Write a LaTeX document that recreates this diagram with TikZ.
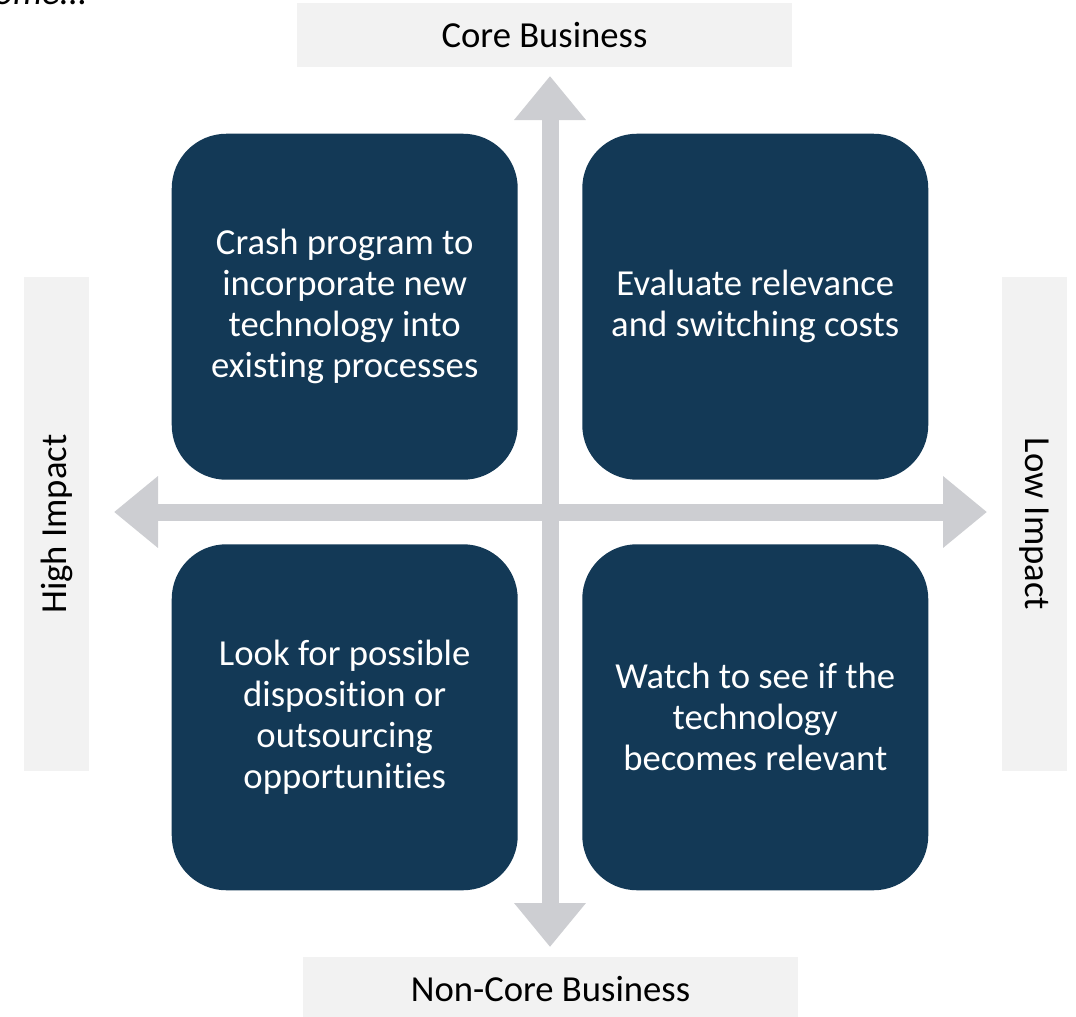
\documentclass[tikz,border=0pt]{standalone}
\usepackage{fontspec}
\setmainfont{Carlito}[Ligatures=NoCommon]
\usetikzlibrary{arrows.meta,positioning}
\definecolor{navy}{RGB}{19,57,86}
\definecolor{pilgraa}{RGB}{205,206,210}
\definecolor{etikettgraa}{RGB}{242,242,242}
\tikzset{
    %Define style for quadrant boxes
    felt/.style={
           rectangle,
           rounded corners=41pt,
           fill=navy,
           text=white,
           minimum width=259.5pt,
           minimum height=259.5pt,
           inner sep=0pt,
           align=center,
           font=\fontsize{27.5}{30.75}\selectfont},
    %Define style for axis labels
    merke/.style={
           rectangle,
           fill=etikettgraa,
           text=black,
           inner sep=0pt,
           font=\fontsize{27.5}{32}\selectfont},
    % Define arrow style
    pil/.style={
           draw=pilgraa,
           line width=12.75pt,
           {Triangle[width=51.75pt,length=33pt]}-{Triangle[width=51.75pt,length=33pt]}}
}
\begin{document}
\begin{tikzpicture}[x=0.75pt,y=-0.75pt]
\useasboundingbox (0,0) rectangle (1076,1017);
 %axes
\coordinate (midt) at (550,512);
\coordinate (opp) at (550,76);
\coordinate (ned) at (550,947);
\coordinate (venstre) at (114,512);
\coordinate (hoyre) at (987,512);
\draw[pil] (ned) -- (opp);
\draw[pil] (venstre) -- (hoyre);
 %quadrants
\node[felt, above left=24pt and 24pt of midt](tv){Crash program to\\incorporate new\\technology into\\existing processes};
\node[felt, above right=24pt and 24pt of midt](th){Evaluate relevance\\and switching costs};
\node[felt, below left=24pt and 24pt of midt](bv){Look for possible\\disposition or\\outsourcing\\opportunities};
\node[felt, below right=24pt and 24pt of midt](bh){Watch to see if the\\technology\\becomes relevant};
 %labels
\node[merke, minimum width=371.25pt, minimum height=48pt](kjerne) at (544.5,35){Core Business};
\node[merke, minimum width=371.25pt, minimum height=48pt](ikkekjerne) at (550.5,989){Non-Core Business};
\node[merke, rotate=90, minimum width=370.5pt, minimum height=48.75pt](hoy) at (56.5,524){High Impact};
\node[merke, rotate=-90, minimum width=370.5pt, minimum height=48.75pt](lav) at (1034.5,524){Low Impact};
\node[anchor=base west, inner sep=0pt, font=\itshape\fontsize{27.5}{32}\selectfont](fot) at (-6,5){ome...};
\end{tikzpicture}
\end{document}
